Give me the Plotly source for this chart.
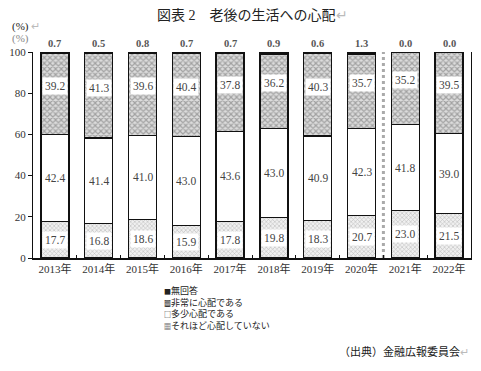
import plotly.graph_objects as go

years = ["2013年", "2014年", "2015年", "2016年", "2017年", "2018年", "2019年", "2020年", "2021年", "2022年"]
no_answer = [0.7, 0.5, 0.8, 0.7, 0.7, 0.9, 0.6, 1.3, 0.0, 0.0]
very_worried = [39.2, 41.3, 39.6, 40.4, 37.8, 36.2, 40.3, 35.7, 35.2, 39.5]
somewhat_worried = [42.4, 41.4, 41.0, 43.0, 43.6, 43.0, 40.9, 42.3, 41.8, 39.0]
not_worried = [17.7, 16.8, 18.6, 15.9, 17.8, 19.8, 18.3, 20.7, 23.0, 21.5]
y_ticks = [0, 20, 40, 60, 80, 100]
legend_names = ["無回答", "非常に心配である", "多少心配である", "それほど心配していない"]
legend_marks = ["■", "▩", "□", "▦"]

FONT = "Liberation Serif, 'Noto Sans CJK JP', serif"
LINE = dict(color="#111", width=1.3)
W = 0.64

fig = go.Figure()
fig.add_bar(x=years, y=not_worried, width=W, name=legend_names[3],
            marker=dict(color="#e6e6e6", line=LINE,
                        pattern=dict(shape="x", size=3, solidity=0.35, fgcolor="#8a8a8a", bgcolor="#f0f0f0")))
fig.add_bar(x=years, y=somewhat_worried, width=W, name=legend_names[2],
            marker=dict(color="white", line=LINE))
fig.add_bar(x=years, y=very_worried, width=W, name=legend_names[1],
            marker=dict(color="#bdbdbd", line=LINE,
                        pattern=dict(shape="x", size=4, solidity=0.5, fgcolor="#666", bgcolor="#dcdcdc")))
fig.add_bar(x=years, y=no_answer, width=W, name=legend_names[0],
            marker=dict(color="#111", line=LINE))

ann = []
for i, yr in enumerate(years):
    b = not_worried[i]
    m = b + somewhat_worried[i]
    t = m + very_worried[i]
    ann.append(dict(x=yr, y=b / 2, text=f"{b:.1f}", showarrow=False, bgcolor="white",
                    borderpad=2, font=dict(size=11.5, color="#444", family=FONT)))
    ann.append(dict(x=yr, y=(b + m) / 2, text=f"{somewhat_worried[i]:.1f}", showarrow=False,
                    font=dict(size=11.5, color="#444", family=FONT)))
    ann.append(dict(x=yr, y=(m + t) / 2, yshift=8, text=f"{very_worried[i]:.1f}", showarrow=False,
                    bgcolor="white", borderpad=2, font=dict(size=11.5, color="#444", family=FONT)))
    ann.append(dict(x=yr, y=100, yanchor="middle", yshift=9, text=f"<b>{no_answer[i]:.1f}</b>",
                    showarrow=False, font=dict(size=10.5, color="#555", family=FONT)))

# title, unit, legend, source
ann.append(dict(xref="paper", yref="paper", x=0.5, y=1.0, yshift=37, xanchor="center", yanchor="middle",
                text="図表 2　老後の生活への心配<span style='color:#bbb'>↵</span>", showarrow=False,
                font=dict(size=14, color="#222", family=FONT)))
ann.append(dict(xref="paper", yref="paper", x=0, xshift=-23, y=1.0, xanchor="left", yanchor="middle", yshift=26,
                text="(%) <span style='color:#bbb'>↵</span>", showarrow=False,
                font=dict(size=11, color="#222", family=FONT)))
ann.append(dict(xref="paper", yref="paper", x=0, xshift=-23, y=1.0, xanchor="left", yanchor="middle", yshift=14,
                text="(%)", showarrow=False, font=dict(size=11, color="#888", family=FONT)))
legend_text = "<br>".join(f"<span style='font-size:7px'>{mk}</span>{nm}"
                          for mk, nm in zip(legend_marks, legend_names))
ann.append(dict(xref="paper", yref="paper", x=0.297, y=0, yshift=-50, xanchor="left", yanchor="middle",
                align="left", text=legend_text, showarrow=False, borderpad=0,
                font=dict(size=9, color="#222", family="'Noto Sans CJK JP', DejaVu Sans")))
ann.append(dict(xref="paper", yref="paper", x=1.0, y=-0.45, xanchor="right", yanchor="middle",
                text="（出典）金融広報委員会<span style='color:#bbb'>↵</span>", showarrow=False,
                font=dict(size=11, color="#222", family="'Noto Sans CJK JP'")))

fig.update_layout(
    barmode="stack",
    width=481, height=371,
    margin=dict(l=31, r=9, t=52, b=113),
    paper_bgcolor="white", plot_bgcolor="white",
    showlegend=False,
    annotations=ann,
    shapes=[dict(type="line", xref="x", yref="y", x0=7.5, x1=7.5, y0=0, y1=100,
                 line=dict(color="#aaa", width=3, dash="dot"), layer="below")],
    font=dict(family=FONT, size=11, color="#333"),
)
fig.update_xaxes(type="category", range=[-0.5, 9.5], showline=True, linecolor="#111", linewidth=1.5,
                 ticks="inside", tickson="boundaries", ticklen=3, tickcolor="#111",
                 showgrid=False, tickfont=dict(size=11, color="#333", family=FONT))
fig.update_yaxes(range=[0, 100], tickvals=y_ticks, showline=True, linecolor="#111", linewidth=1.3,
                 mirror=True, ticks="outside", ticklen=4, tickcolor="#111", showgrid=False,
                 zeroline=False, tickfont=dict(size=11, color="#333", family=FONT))

fig.write_html("out.html", config={"displayModeBar": False},
               post_script="document.body.style.margin='0';document.body.style.padding='0';")
